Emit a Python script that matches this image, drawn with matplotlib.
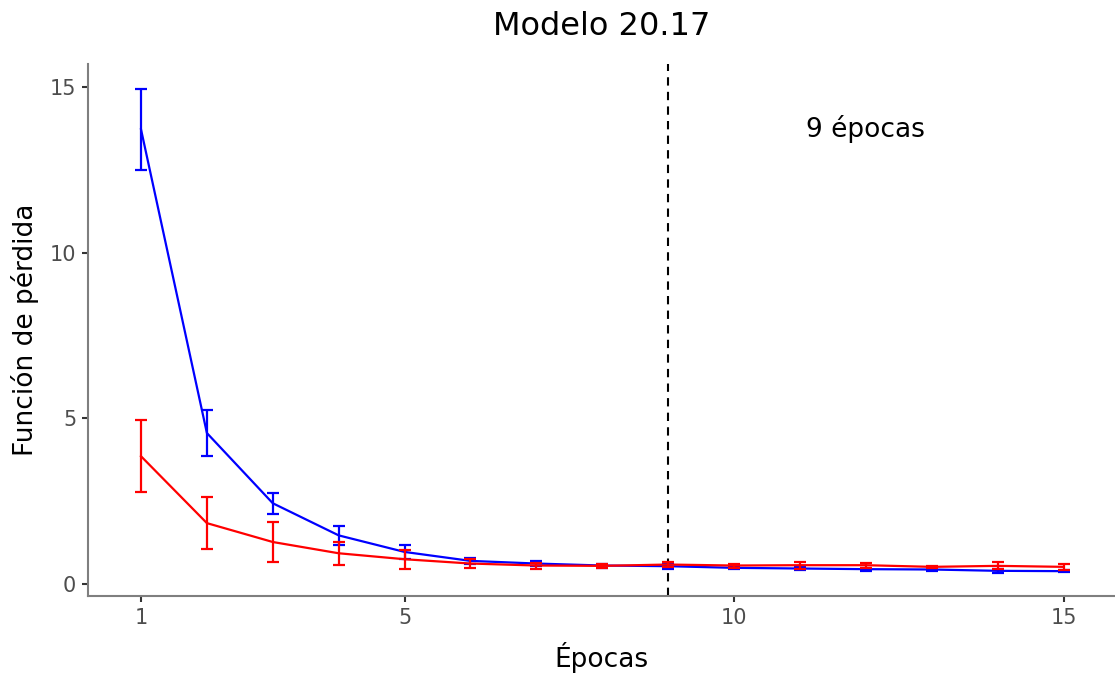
import matplotlib
matplotlib.use("Agg")
import matplotlib.pyplot as plt

# Training history: mean loss per epoch with its spread
epochs = list(range(1, 16))
loss_blue = [13.73, 4.56, 2.44, 1.47, 0.97, 0.70, 0.62, 0.56, 0.54, 0.49, 0.47, 0.45, 0.44, 0.40, 0.39]
err_blue = [1.23, 0.70, 0.32, 0.29, 0.21, 0.08, 0.08, 0.06, 0.07, 0.05, 0.05, 0.05, 0.04, 0.06, 0.04]
loss_red = [3.86, 1.84, 1.27, 0.93, 0.75, 0.62, 0.56, 0.55, 0.59, 0.56, 0.57, 0.57, 0.52, 0.55, 0.52]
err_red = [1.08, 0.78, 0.59, 0.34, 0.28, 0.13, 0.09, 0.06, 0.08, 0.06, 0.10, 0.08, 0.04, 0.11, 0.09]
best_epoch = 9
x_ticks = [1, 5, 10, 15]
y_ticks = [0, 5, 10, 15]

fig = plt.figure(figsize=(11.15, 6.75), dpi=100)
ax = fig.add_axes([88 / 1115, 1 - 596 / 675, (1115 - 88) / 1115, (596 - 64) / 675])

for y, e, c in [(loss_blue, err_blue, "blue"), (loss_red, err_red, "red")]:
    ax.plot(epochs, y, color=c, lw=1.6, zorder=3)
    ax.errorbar(epochs, y, yerr=e, fmt="none", ecolor=c, elinewidth=1.6,
                capsize=4.4, capthick=1.6, zorder=3)

ax.axvline(best_epoch, color="black", ls=(0, (4, 3)), lw=1.5, zorder=2)
ax.text(12.0, 13.73, f"{best_epoch} épocas", fontsize=19, ha="center", va="center")

ax.set_xlim(0.196, 15.78)
ax.set_ylim(-0.36, 15.70)
ax.set_xticks(x_ticks)
ax.set_yticks(y_ticks)

for side in ["top", "right"]:
    ax.spines[side].set_visible(False)
for side in ["left", "bottom"]:
    ax.spines[side].set_color("#7f7f7f")
    ax.spines[side].set_linewidth(1.5)
ax.tick_params(colors="#333333", labelcolor="#4d4d4d", labelsize=15,
               width=1.5, length=4, pad=4.5)
for t in ax.get_xticklabels() + ax.get_yticklabels():
    t.set_color("#4d4d4d")

ax.set_xlabel("Épocas", fontsize=19, labelpad=10)
ax.set_ylabel("Función de pérdida", fontsize=19, labelpad=8)
ax.set_title("Modelo 20.17", fontsize=23, pad=21)

fig.savefig("out.png", dpi=100)
